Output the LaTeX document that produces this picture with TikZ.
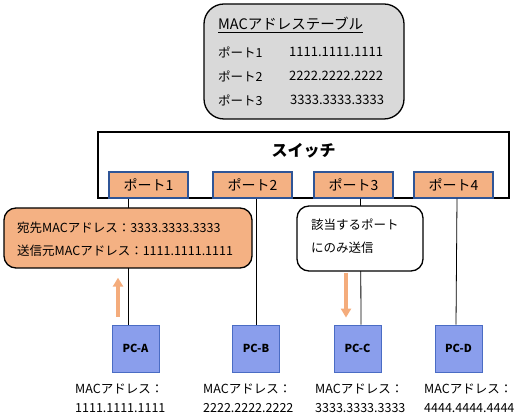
\documentclass[tikz,border=0pt]{standalone}
\usepackage{fontspec}
\setmainfont{Noto Sans CJK JP}
\usetikzlibrary{arrows.meta,positioning}
\definecolor{portfill}{HTML}{F4B183}
\definecolor{portedge}{HTML}{2F5597}
\definecolor{pcfill}{HTML}{8A9EEC}
\definecolor{pcedge}{HTML}{4A6CC4}
\definecolor{tablefill}{HTML}{D9D9D9}
\definecolor{flowcol}{HTML}{F4AC7C}

\tikzset{
  portbox/.style={draw=portedge,fill=portfill,line width=1.2pt,minimum width=79pt,minimum height=26pt,inner sep=0pt,font=\fontsize{14}{16}\selectfont},
  pcbox/.style={draw=pcedge,fill=pcfill,line width=0.8pt,minimum width=47pt,minimum height=47pt,inner sep=0pt,font=\fontsize{11}{13}\selectfont\bfseries},
  calloutbox/.style={draw,line width=1.3pt,rounded corners=12pt,inner sep=0pt},
  wire/.style={draw,line width=0.8pt},
  flow/.style={flowcol,line width=3.2pt,-{Triangle[length=9pt,width=10pt]}},
  lbl/.style={anchor=west,inner sep=0pt,font=\fontsize{12.5}{14}\selectfont},
}

\begin{document}
\begin{tikzpicture}[x=1pt,y=-1pt]
  \useasboundingbox (0,0) rectangle (517,419);

  % MAC table
  \node[calloutbox,fill=tablefill,rounded corners=20pt,minimum width=200pt,minimum height=115pt] (mactable) at (304,61.5) {};
  \node[lbl,font=\fontsize{14.5}{16}\selectfont] (tabletitle) at (218,25) {\underline{MACアドレステーブル}};
  \node[lbl] (row1) at (218,52) {ポート1};
  \node[lbl] (row2) at (218,76) {ポート2};
  \node[lbl] (row3) at (218,100) {ポート3};
  \node[lbl,font=\fontsize{13}{15}\selectfont] (addr1) at (289,52) {1111.1111.1111};
  \node[lbl,font=\fontsize{13}{15}\selectfont] (addr2) at (289,76) {2222.2222.2222};
  \node[lbl,font=\fontsize{13}{15}\selectfont] (addr3) at (290,100) {3333.3333.3333};

  % Switch
  \node[draw,line width=1.5pt,minimum width=411pt,minimum height=66pt,inner sep=0pt] (switch) at (303.5,165) {};
  \node[font=\fontsize{16}{18}\selectfont\bfseries] (switchname) at (303.5,151) {スイッチ};

  % Ports
  \node[portbox] (port1) at (148.5,185) {ポート1};
  \node[portbox] (port2) at (252.5,185) {ポート2};
  \node[portbox] (port3) at (353.5,185) {ポート3};
  \node[portbox] (port4) at (453.5,185) {ポート4};

  % PCs
  \node[pcbox] (pca) at (135.5,348.5) {PC-A};
  \node[pcbox] (pcb) at (256,348.5) {PC-B};
  \node[pcbox] (pcc) at (357.5,348.5) {PC-C};
  \node[pcbox] (pcd) at (458.5,348.5) {PC-D};

  % Wires
  \draw[wire] ([xshift=-20.5pt]port1.south) -- ([xshift=-7.5pt]pca.north);
  \draw[wire] ([xshift=3.5pt]port2.south) -- (pcb.north);
  \draw[wire] ([xshift=7pt]port3.south) -- ([xshift=3.5pt]pcc.north);
  \draw[wire] ([xshift=3.5pt]port4.south) -- ([xshift=-2.5pt]pcd.north);

  % Frame and note
  \node[calloutbox,fill=portfill,minimum width=248pt,minimum height=60pt] (frame) at (128,238) {};
  \node[lbl] (dstmac) at (17,228) {宛先MACアドレス：3333.3333.3333};
  \node[lbl] (srcmac) at (17,251) {送信元MACアドレス：1111.1111.1111};

  \node[calloutbox,fill=white,minimum width=126pt,minimum height=65pt] (note) at (360,238.5) {};
  \node[lbl] (note1) at (311,225) {該当するポート};
  \node[lbl] (note2) at (311,248) {にのみ送信};

  % Flow arrows
  \draw[flow] ([xshift=-17.5pt,yshift=8pt]pca.north) -- ([xshift=-10pt,yshift=-9pt]frame.south);
  \draw[flow] ([xshift=-14pt,yshift=-1pt]note.south) -- ([xshift=-11.5pt,yshift=7pt]pcc.north);

  % MAC addresses of PCs
  \node[lbl] (maca) at (75,389) {MACアドレス：};
  \node[lbl] (addra) at (75,408) {1111.1111.1111};
  \node[lbl] (macb) at (203,389) {MACアドレス：};
  \node[lbl] (addrb) at (203,408) {2222.2222.2222};
  \node[lbl] (macc) at (315,389) {MACアドレス：};
  \node[lbl] (addrc) at (315,408) {3333.3333.3333};
  \node[lbl] (macd) at (424,389) {MACアドレス：};
  \node[lbl] (addrd) at (424,408) {4444.4444.4444};
\end{tikzpicture}
\end{document}
